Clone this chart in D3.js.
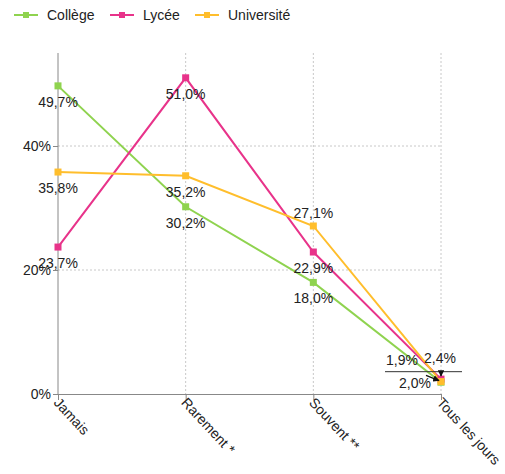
<!DOCTYPE html>
<html><head><meta charset="utf-8">
<script src="https://cdn.jsdelivr.net/npm/d3@7"></script>
<style>
body{margin:0;background:#fff;}
text{font-family:"Liberation Sans",Arial,sans-serif;fill:#222;}
</style></head>
<body><svg id="c" width="505" height="474"></svg>
<script>
const categories = ["Jamais", "Rarement *", "Souvent **", "Tous les jours"];
const seriesNames = ["Collège", "Lycée", "Université"];
const college = [49.7, 30.2, 18.0, 1.9];
const lycee = [23.7, 51.0, 22.9, 2.4];
const universite = [35.8, 35.2, 27.1, 2.0];
const yTicks = [0, 20, 40];
const colors = ["#8fd34f", "#e8338a", "#ffbe2c"];

const series = [college, lycee, universite];
const svg = d3.select("#c");
const x = d3.scalePoint().domain(categories).range([58, 441]);
const y = d3.scaleLinear().domain([0, 55]).range([394, 53]);
const fmt = v => d3.format(".1f")(v).replace(".", ",") + "%";
const FS = "14px";

// gridlines
const g = svg.append("g");
g.selectAll(".hg").data(yTicks.filter(t => t > 0)).enter().append("line")
  .attr("x1", x.range()[0]).attr("x2", x.range()[1])
  .attr("y1", d => y(d)).attr("y2", d => y(d))
  .attr("stroke", "#c8c8c8").attr("stroke-dasharray", "2,2");
g.selectAll(".vg").data(categories.slice(1)).enter().append("line")
  .attr("x1", d => x(d)).attr("x2", d => x(d))
  .attr("y1", y(55)).attr("y2", y(0))
  .attr("stroke", "#c8c8c8").attr("stroke-dasharray", "2,2");

// y axis
const yAxis = d3.axisLeft(y).tickValues(yTicks).tickFormat(d => d + "%").tickSize(5).tickPadding(2);
const ya = svg.append("g").attr("transform", "translate(58,0)").call(yAxis);
ya.select(".domain").attr("stroke", "#888").attr("d", `M0,${y(55)}V${y(0)}`);
ya.selectAll(".tick line").attr("stroke", "#888");
ya.selectAll("text").style("font-size", FS).style("fill", "#222").style("font-family", "Liberation Sans, Arial, sans-serif");

// x axis
const xAxis = d3.axisBottom(x).tickSize(6).tickSizeOuter(0);
const xa = svg.append("g").attr("transform", `translate(0,${y(0)})`).call(xAxis);
xa.select(".domain").attr("stroke", "#888");
xa.selectAll(".tick line").attr("stroke", "#888");
xa.selectAll("text").style("font-size", FS).style("fill", "#222")
  .style("font-family", "Liberation Sans, Arial, sans-serif")
  .attr("text-anchor", "start").attr("dy", "0.35em")
  .attr("transform", "translate(-2,6) rotate(47)").attr("x", 0).attr("y", 0);

// lines
const line = d3.line().x((d, i) => x(categories[i])).y(d => y(d));
series.forEach((s, k) => {
  svg.append("path").datum(s).attr("d", line).attr("fill", "none")
    .attr("stroke", colors[k]).attr("stroke-width", 2);
});
series.forEach((s, k) => {
  svg.selectAll(null).data(s).enter().append("rect")
    .attr("x", (d, i) => x(categories[i]) - 3.5).attr("y", d => y(d) - 3.5)
    .attr("width", 7).attr("height", 7).attr("fill", colors[k]);
});

// data labels (placement overrides for collisions)
const special = {"2-2": [0, -13], "0-3": [-39, -22], "1-3": [-1, -21], "2-3": [-26, 1]};
series.forEach((s, k) => {
  s.forEach((v, i) => {
    const off = special[k + "-" + i] || [0, 16];
    svg.append("text").attr("x", x(categories[i]) + off[0]).attr("y", y(v) + off[1])
      .attr("dy", "0.35em").attr("text-anchor", "middle").style("font-size", FS).text(fmt(v));
  });
});
// leader line & arrows at last point
const lx = x(categories[3]);
svg.append("defs").append("marker").attr("id", "ar").attr("viewBox", "0 0 10 10")
  .attr("refX", 9).attr("refY", 5).attr("markerWidth", 5).attr("markerHeight", 5).attr("orient", "auto")
  .append("path").attr("d", "M0,0L10,5L0,10z").attr("fill", "#111");
svg.append("line").attr("x1", lx - 56).attr("x2", lx + 21).attr("y1", y(3.6)).attr("y2", y(3.6))
  .attr("stroke", "#333").attr("stroke-width", 1);
svg.append("line").attr("x1", lx).attr("x2", lx).attr("y1", y(3.6)).attr("y2", y(2.4) - 3)
  .attr("stroke", "#111").attr("stroke-width", 1.3).attr("marker-end", "url(#ar)");
svg.append("line").attr("x1", lx - 15).attr("x2", lx - 2).attr("y1", y(3.0)).attr("y2", y(2.0) - 1)
  .attr("stroke", "#111").attr("stroke-width", 1.3).attr("marker-end", "url(#ar)");

// legend
const leg = svg.append("g");
const legX = [14, 110, 195];
seriesNames.forEach((n, k) => {
  const gg = leg.append("g").attr("transform", `translate(${legX[k]},15)`);
  gg.append("line").attr("x1", 0).attr("x2", 24).attr("stroke", colors[k]).attr("stroke-width", 2);
  gg.append("rect").attr("x", 9).attr("y", -3).attr("width", 6).attr("height", 6).attr("fill", colors[k]);
  gg.append("text").attr("x", 33).attr("dy", "0.35em").style("font-size", FS).text(n);
});
</script></body></html>
